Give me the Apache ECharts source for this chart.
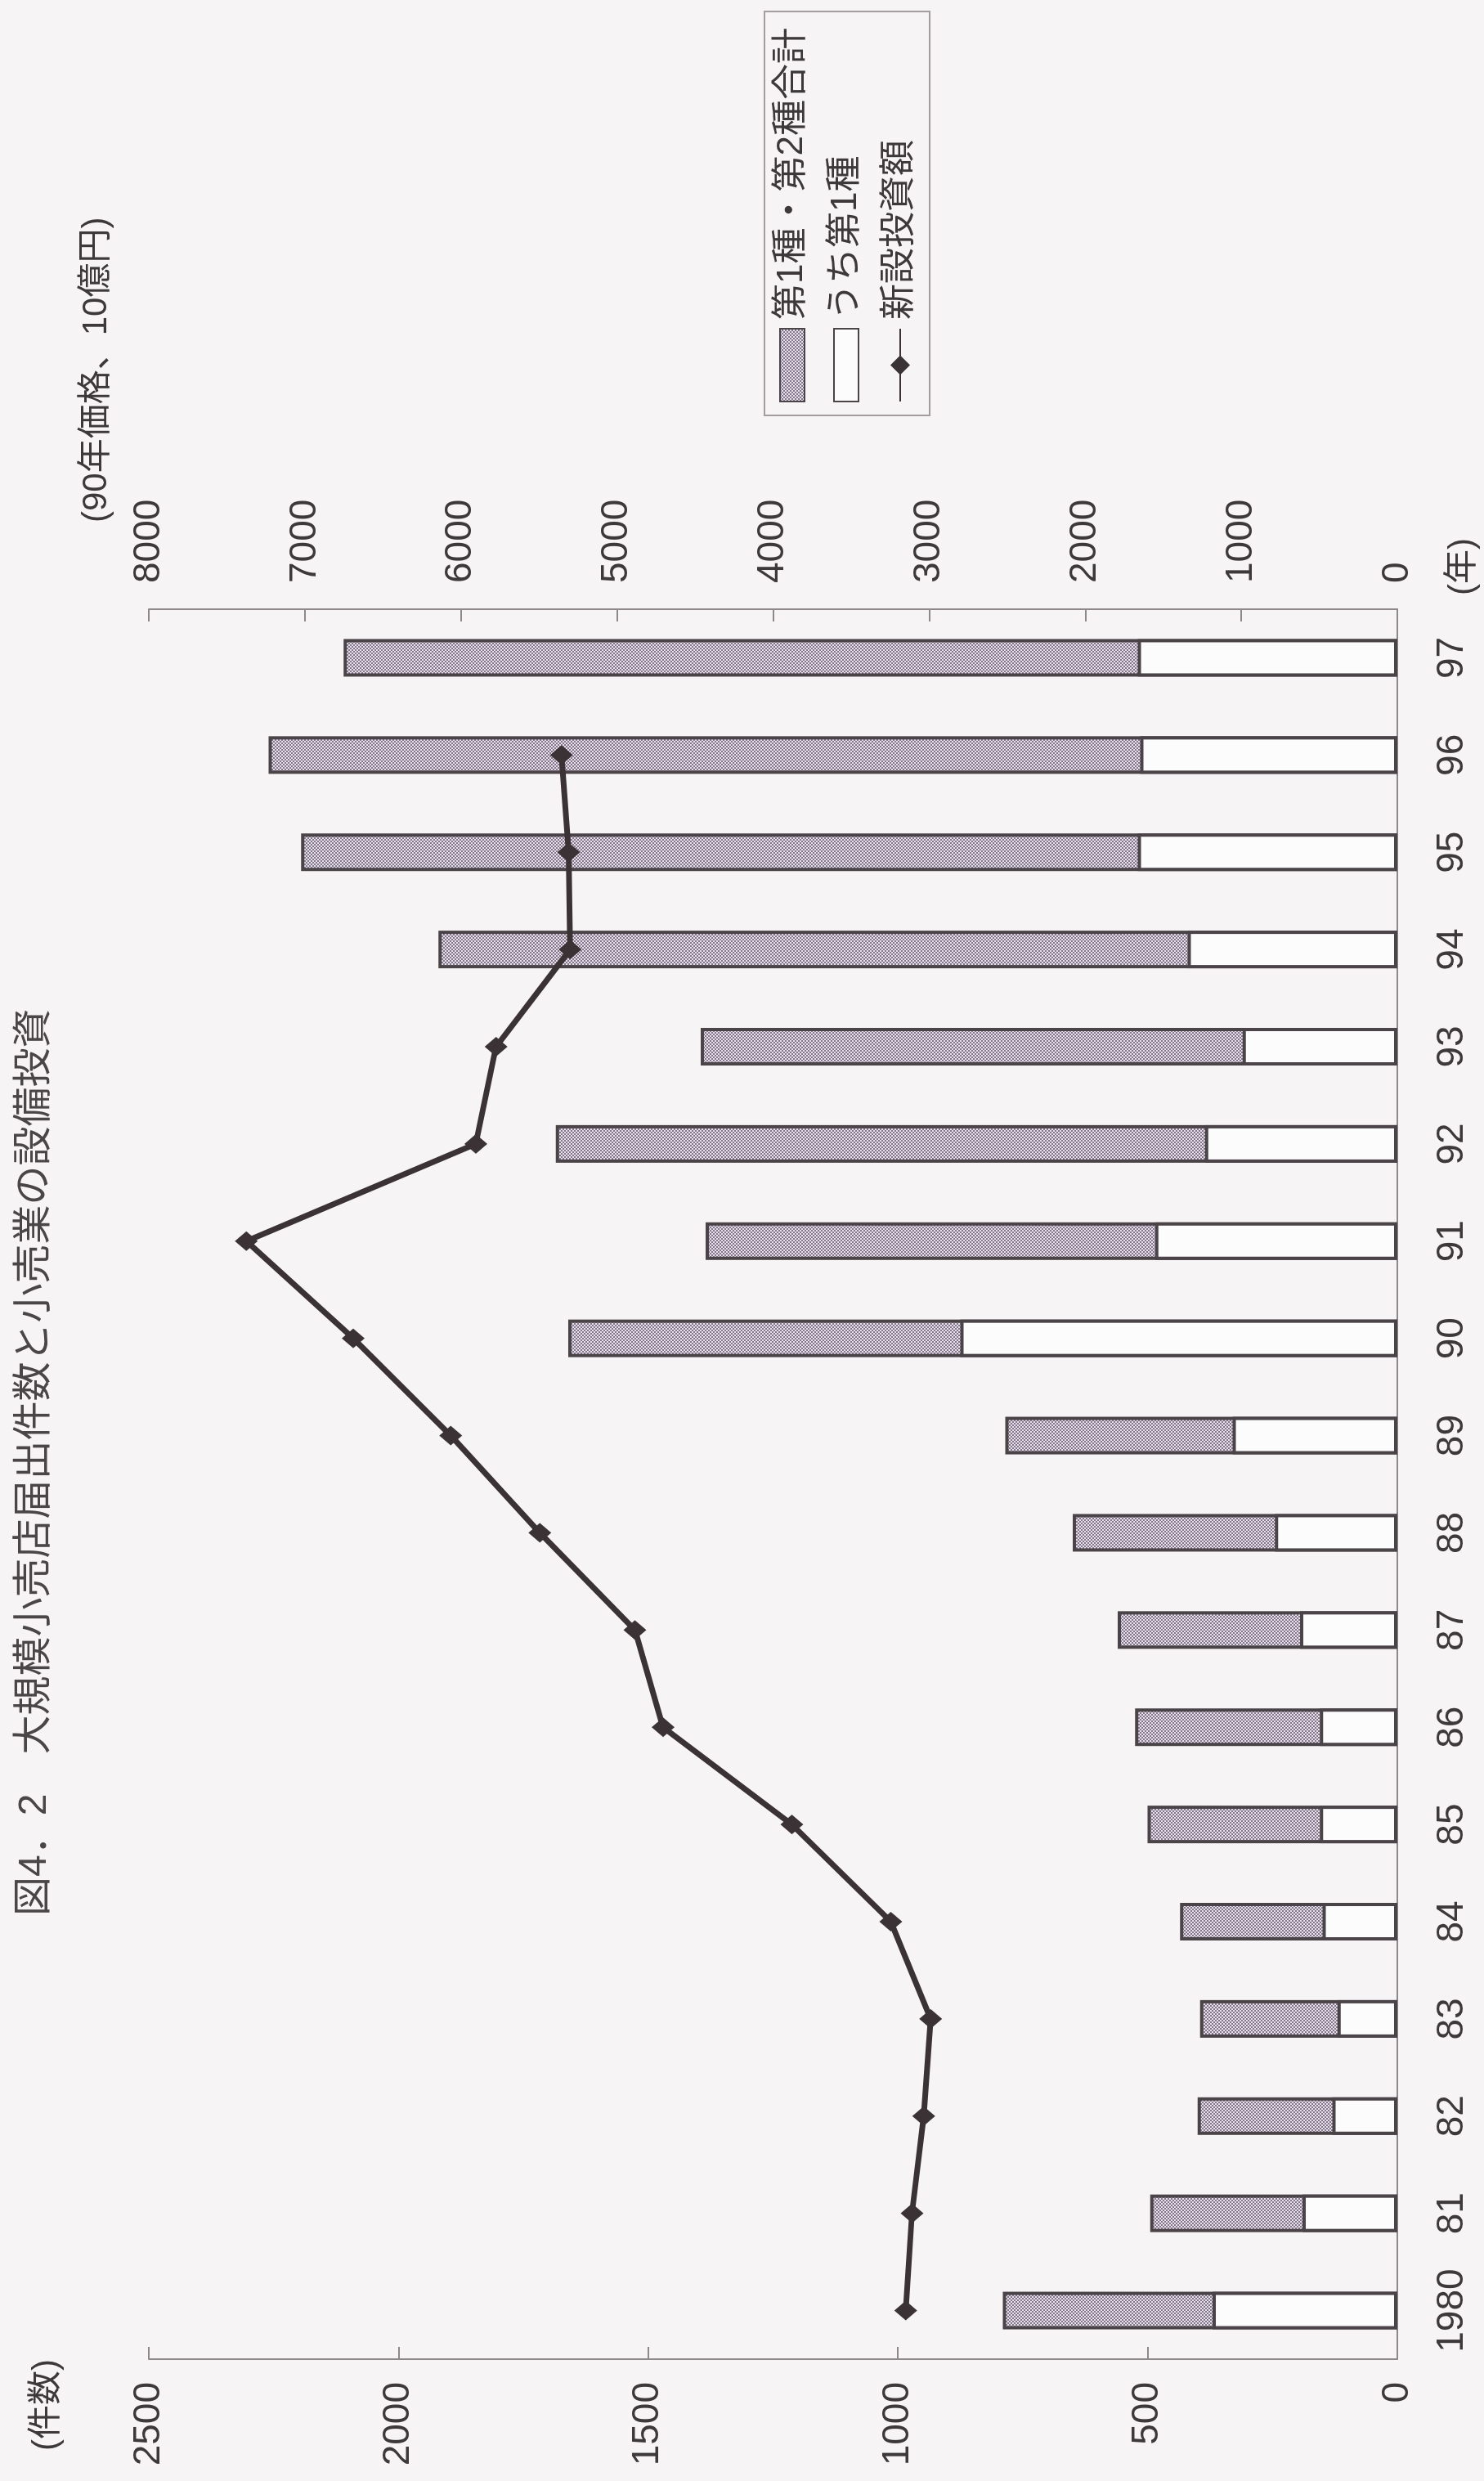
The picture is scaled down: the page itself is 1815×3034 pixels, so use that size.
<!DOCTYPE html>
<html lang="ja">
<head>
<meta charset="utf-8">
<title>大規模小売店届出件数と小売業の設備投資</title>
<script src="https://cdn.jsdelivr.net/npm/echarts@6/dist/echarts.min.js"></script>
<style>
  html, body { margin: 0; padding: 0; background: #f6f4f5; }
  body { width: 1815px; height: 3034px; overflow: hidden; position: relative; }
  /* the figure is laid out landscape and turned a quarter turn to sit on the portrait page */
  #chart {
    position: absolute; left: 0; top: 0;
    width: 3034px; height: 1815px;
    transform-origin: 0 0;
    transform: translateY(3034px) rotate(-90deg);
  }
</style>
</head>
<body>
<div id="chart"></div>
<script>
// 年
const years = ['1980', '81', '82', '83', '84', '85', '86', '87', '88',
               '89', '90', '91', '92', '93', '94', '95', '96', '97'];

// 大規模小売店届出件数：第1種・第2種合計（件）
const totalCount = [790, 495, 400, 395, 435, 500, 525, 560, 650,
                    785, 1660, 1385, 1685, 1395, 1920, 2195, 2260, 2110];

// うち第1種（件）
const type1Count = [370, 190, 130, 120, 150, 155, 155, 195, 245,
                    330, 875, 485, 385, 310, 420, 520, 515, 520];

// 小売業の新設投資額（90年価格、10億円）; 97年は無し
const investment = [3150, 3110, 3035, 2990, 3245, 3880, 4705, 4885, 5495,
                    6065, 6690, 7375, 5905, 5775, 5300, 5310, 5355, null];

// 目盛り
const countAxis = { max: 2500, step: 500 };
const investAxis = { max: 8000, step: 1000 };

const FONT = "'Liberation Sans', Arial, 'Noto Sans CJK JP', sans-serif";
const INK = '#3d393b';
const AXIS = '#8e888c';
const EDGE = '#4a4347';

// stippled fill for the combined-count bars
function stipple() {
  const c = document.createElement('canvas');
  c.width = 4; c.height = 4;
  const g = c.getContext('2d');
  g.fillStyle = '#e6e0e8';
  g.fillRect(0, 0, 4, 4);
  g.fillStyle = '#84768c';
  g.fillRect(0, 0, 2, 2);
  g.fillRect(2, 2, 2, 2);
  return c;
}
const dotted = { image: stipple(), repeat: 'repeat' };
const plain = v => String(v);

const chart = echarts.init(document.getElementById('chart'), null,
  { width: 3034, height: 1815, renderer: 'canvas' });

chart.setOption({
  animation: false,
  backgroundColor: 'transparent',
  textStyle: { fontFamily: FONT, color: INK },
  title: {
    text: '図4．2　大規模小売店届出件数と小売業の設備投資',
    left: 686, top: 14,
    textStyle: { fontFamily: FONT, fontSize: 48, fontWeight: 'normal', color: '#4a4648' }
  },
  legend: {
    orient: 'vertical',
    left: 2526, top: 935,
    padding: [12, 20, 14, 16],
    itemGap: 22,
    itemWidth: 89, itemHeight: 30,
    borderColor: '#a29ca0', borderWidth: 2,
    textStyle: { fontFamily: FONT, fontSize: 44, color: INK, padding: [0, 0, 0, 6] },
    data: [
      { name: '第1種・第2種合計', icon: 'rect', itemStyle: { borderWidth: 2 } },
      { name: 'うち第1種', icon: 'rect', itemStyle: { borderWidth: 2 } },
      { name: '新設投資額' }
    ]
  },
  // year unit written at the end of the category labels
  graphic: [{
    type: 'text',
    left: 2306, top: 1768,
    style: { text: '(年)', font: "42px 'Liberation Sans', 'Noto Sans CJK JP', sans-serif", fill: INK }
  }],
  grid: { left: 149, right: 745, top: 182, bottom: 106 },
  xAxis: {
    type: 'category',
    data: years,
    axisLine: { lineStyle: { color: AXIS, width: 2 } },
    axisTick: { inside: true, length: 10, lineStyle: { color: AXIS, width: 2 } },
    axisLabel: { interval: 0, fontFamily: FONT, fontSize: 46, color: INK, margin: 44 }
  },
  yAxis: [
    {
      type: 'value',
      position: 'left',
      min: 0, max: countAxis.max, interval: countAxis.step,
      name: '(件数)',
      nameLocation: 'end',
      nameGap: 104,
      nameMoveOverlap: false,
      nameTextStyle: { fontFamily: FONT, fontSize: 42, color: INK, align: 'right' },
      axisLine: { show: true, lineStyle: { color: AXIS, width: 2 } },
      axisTick: { show: true, inside: true, length: 15, lineStyle: { color: AXIS, width: 2 } },
      axisLabel: { fontFamily: FONT, fontSize: 46, color: INK, margin: 28, formatter: plain },
      splitLine: { show: false }
    },
    {
      type: 'value',
      position: 'right',
      min: 0, max: investAxis.max, interval: investAxis.step,
      name: '(90年価格、10億円)',
      nameLocation: 'end',
      nameGap: 43,
      nameMoveOverlap: false,
      nameTextStyle: { fontFamily: FONT, fontSize: 42, color: INK, align: 'left',
                       padding: [0, 0, 0, 106] },
      axisLine: { show: true, lineStyle: { color: AXIS, width: 2 } },
      axisTick: { show: true, inside: true, length: 15, lineStyle: { color: AXIS, width: 2 } },
      axisLabel: { fontFamily: FONT, fontSize: 46, color: INK, margin: 32, formatter: plain },
      splitLine: { show: false }
    }
  ],
  series: [
    {
      name: '第1種・第2種合計',
      type: 'bar',
      data: totalCount,
      barWidth: 46,
      barGap: '-100%',
      itemStyle: { color: dotted, borderColor: EDGE, borderWidth: 4 }
    },
    {
      name: 'うち第1種',
      type: 'bar',
      data: type1Count,
      barWidth: 46,
      barGap: '-100%',
      itemStyle: { color: '#fdfcfd', borderColor: EDGE, borderWidth: 4 }
    },
    {
      name: '新設投資額',
      type: 'line',
      yAxisIndex: 1,
      data: investment,
      z: 5,
      symbol: 'diamond',
      symbolSize: [24, 28],
      lineStyle: { color: '#3b3236', width: 7 },
      itemStyle: { color: '#3b3236' }
    }
  ]
});
</script>
</body>
</html>
